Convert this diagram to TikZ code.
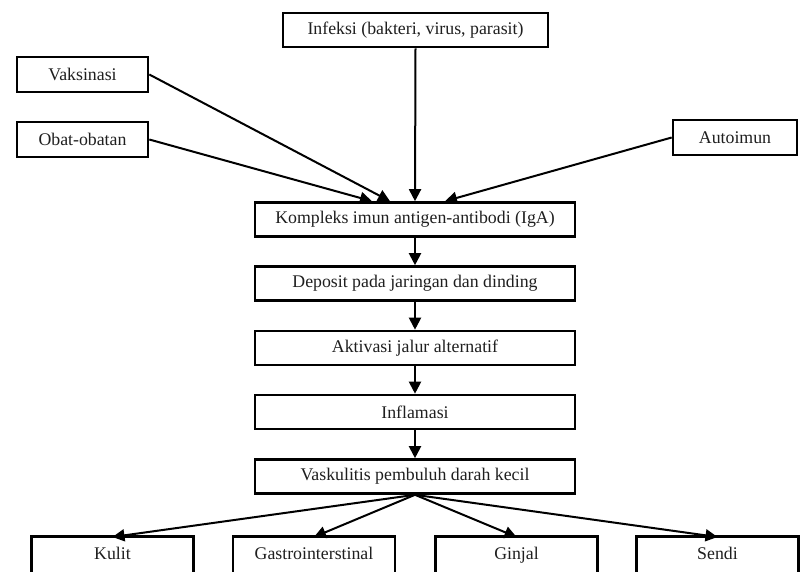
\documentclass[tikz,border=0pt]{standalone}
\usepackage{fontspec}
\setmainfont{Liberation Serif}
\usetikzlibrary{arrows.meta}
\begin{document}
\begin{tikzpicture}[x=1pt,y=-1pt,
  box/.style={draw=black,line width=2.6pt,fill=white,inner sep=0pt,
    font=\fontsize{17.8}{20}\selectfont,text=black!88},
  flowbox/.style={box,minimum width=320pt,minimum height=34pt},
  leaf/.style={box,minimum width=162pt,anchor=north,inner ysep=0pt,text height=23pt,text depth=22pt},
  conn/.style={line width=2pt,-{Triangle[length=12pt,width=12pt]}}]
\path[use as bounding box,clip] (0,0) rectangle (801,572);
\fill[white] (0,0) rectangle (801,572);
% sources
\node[box,minimum width=265pt,minimum height=34pt] (inf) at (415.5,30) {Infeksi (bakteri, virus, parasit)};
\node[box,minimum width=131pt,minimum height=35pt] (vak) at (82.5,74.5) {Vaksinasi};
\node[box,minimum width=131pt,minimum height=35pt] (obat) at (82.5,139.5) {Obat-obatan};
\node[box,minimum width=124pt,minimum height=35pt] (auto) at (735,137.5) {Autoimun};
% chain
\node[flowbox] (kom) at (415,219.5) {Kompleks imun antigen-antibodi (IgA)};
\node[flowbox] (dep) at (415,283.5) {Deposit pada jaringan dan dinding};
\node[flowbox] (akt) at (415,348) {Aktivasi jalur alternatif};
\node[flowbox] (infl) at (415,412) {Inflamasi};
\node[flowbox] (vas) at (415,476.5) {Vaskulitis pembuluh darah kecil};
% leaves
\node[leaf] (kul) at (112.5,535) {Kulit};
\node[leaf] (gas) at (314,535) {Gastrointerstinal};
\node[leaf] (gin) at (516.5,535) {Ginjal};
\node[leaf] (sen) at (717.5,535) {Sendi};
% connectors
\draw[conn] (inf.south) -- (kom.north);
\draw[conn] (vak.east) -- ([xshift=-25pt]kom.north);
\draw[conn] (obat.east) -- ([xshift=-43pt]kom.north);
\draw[conn] (auto.west) -- ([xshift=30pt]kom.north);
\draw[conn] (kom) -- (dep);
\draw[conn] (dep) -- (akt);
\draw[conn] (akt) -- (infl);
\draw[conn] (infl) -- (vas);
\draw[conn] (vas.south) -- ([yshift=-2pt]kul.north);
\draw[conn] (vas.south) -- ([yshift=-2pt]gas.north);
\draw[conn] (vas.south) -- ([yshift=-2pt]gin.north);
\draw[conn] (vas.south) -- ([yshift=-2pt]sen.north);
\end{tikzpicture}
\end{document}
